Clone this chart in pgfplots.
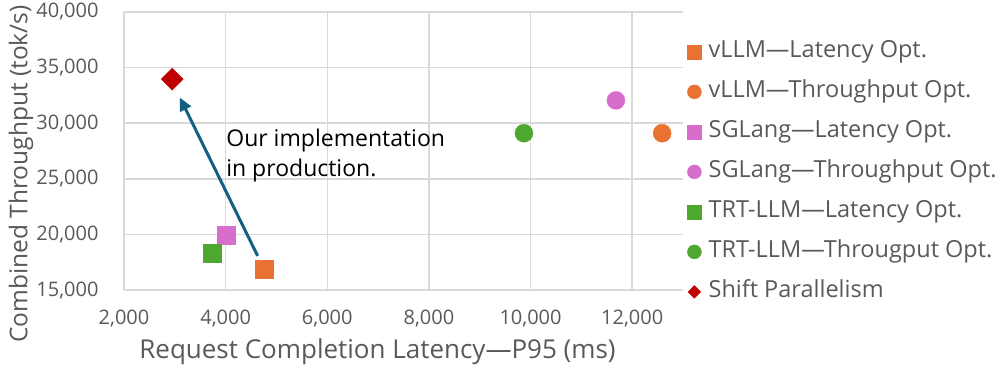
\documentclass[border=0pt]{standalone}
\usepackage{fontspec}
\setmainfont{Open Sans}
\usepackage{pgfplots}
\pgfplotsset{compat=1.18}
\usetikzlibrary{arrows.meta}

\definecolor{vorange}{HTML}{E97132}
\definecolor{spink}{HTML}{D86ECC}
\definecolor{tgreen}{HTML}{4EA72E}
\definecolor{shred}{HTML}{C00000}
\definecolor{arrowblue}{HTML}{156082}
\definecolor{txtgray}{HTML}{595959}
\definecolor{gridgray}{HTML}{D9D9D9}

% size of a marker in the legend, set per plot
\def\lms{7pt}
\tikzset{legmark/.code={\def\lms{#1}}}

\begin{document}
\begin{tikzpicture}
\begin{axis}[
  scale only axis,
  width=559pt, height=278.3pt,
  xmin=2000, xmax=13000,
  ymin=15000, ymax=40000,
  xtick={2000,4000,...,12000},
  ytick={15000,20000,...,40000},
  scaled ticks=false,
  /pgf/number format/1000 sep={,},
  /pgf/number format/assume math mode=true,
  tick label style={font=\fontsize{20}{24}\selectfont, text=txtgray},
  xticklabel style={yshift=-16pt},
  yticklabel style={xshift=-22pt},
  major tick length=0pt,
  axis line style={draw=none},
  grid=major,
  major grid style={gridgray, line width=1.4pt},
  xlabel={Request Completion Latency—P95 (ms)},
  ylabel={Combined Throughput (tok/s)},
  every axis x label/.style={at={(rel axis cs:0.5,0)}, anchor=center,
    yshift=-62pt, xshift=-26pt, font=\fontsize{26}{30}\selectfont, text=txtgray},
  every axis y label/.style={at={(rel axis cs:0,0.5)}, anchor=center,
    xshift=-103pt, yshift=-23pt, rotate=90,
    font=\fontsize{24.5}{28}\selectfont, text=txtgray},
  only marks,
  legend style={draw=none, fill=none, inner sep=0pt,
    at={(rel axis cs:1,0.425)}, anchor=west, xshift=4pt,
    font=\fontsize{23.5}{27}\selectfont, text=txtgray,
    row sep=19pt,
    nodes={inner xsep=0pt, inner ysep=0pt, text height=16pt, text depth=5pt}},
  legend cell align=left,
  legend image code/.code={
    \path (0pt,0pt) (21pt,0pt);
    \draw[#1, mark size=\lms] plot coordinates {(7pt,0pt)};
  },
]
\addplot[mark=square*, mark size=9pt, mark options={draw=vorange, fill=vorange}]
  coordinates {(4750,16890)};
\addlegendentry{vLLM—Latency Opt.}
\addplot[mark=*, mark size=9pt, mark options={draw=vorange, fill=vorange}]
  coordinates {(12590,29100)};
\addlegendentry{vLLM—Throughput Opt.}
\addplot[mark=square*, mark size=9pt, mark options={draw=spink, fill=spink}]
  coordinates {(4010,19950)};
\addlegendentry{SGLang—Latency Opt.}
\addplot[mark=*, mark size=9pt, mark options={draw=spink, fill=spink}]
  coordinates {(11680,32050)};
\addlegendentry{SGLang—Throughput Opt.}
\addplot[mark=square*, mark size=9pt, mark options={draw=tgreen, fill=tgreen}]
  coordinates {(3730,18290)};
\addlegendentry{TRT-LLM—Latency Opt.}
\addplot[mark=*, mark size=9pt, mark options={draw=tgreen, fill=tgreen}]
  coordinates {(9870,29100)};
\addlegendentry{TRT-LLM—Througput Opt.}
\addplot[mark=square*, mark size=7.8pt, legmark=4.5pt,
  mark options={draw=shred, fill=shred, rotate=45}]
  coordinates {(2950,33960)};
\addlegendentry{Shift Parallelism}

\draw[arrowblue, line width=3pt, -{Triangle[length=13pt, width=12pt]}]
  (axis cs:4630,18080) -- (axis cs:3100,32300);
\node[anchor=west, align=left, inner sep=0pt, text=black,
      font=\fontsize{23}{30}\selectfont]
  at (axis cs:4010,27100) {Our implementation\\in production.};
\end{axis}
\path (-124pt,-75.7pt) rectangle (873pt,289.3pt);
\end{tikzpicture}
\end{document}
